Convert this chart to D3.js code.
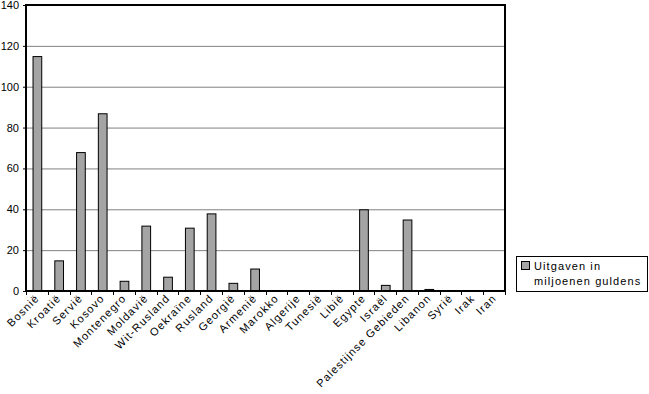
<!DOCTYPE html>
<html>
<head>
<meta charset="utf-8">
<script src="https://cdn.jsdelivr.net/npm/d3@7"></script>
<style>
  body { margin: 0; background: #fff; }
  text { font-family: "Liberation Sans", Arial, sans-serif; font-size: 11px; fill: #000; }
  .cat, .leg { letter-spacing: 1.1px; }
</style>
</head>
<body>
<svg id="chart" width="649" height="394"></svg>
<script>
// data
const countries = ["Bosnië","Kroatië","Servië","Kosovo","Montenegro","Moldavië","Wit-Rusland",
  "Oekraïne","Rusland","Georgië","Armenië","Marokko","Algerije","Tunesië","Libië","Egypte",
  "Israël","Palestijnse Gebieden","Libanon","Syrië","Irak","Iran"]
const spending = [115,15,68,87,5,32,7,31,38,4,11,0,0,0,0,40,3,35,1,0,0,0]
const yTicks = [0,20,40,60,80,100,120,140]
const legendLines = ["Uitgaven in", "miljoenen guldens"]

const svg = d3.select("#chart")
const margin = {top: 5, left: 26}
const width = 479, height = 286

const g = svg.append("g").attr("transform", "translate(" + margin.left + "," + margin.top + ")")

const x = d3.scaleBand().domain(countries).range([0, width]).paddingInner(0.6).paddingOuter(0.3)
const y = d3.scaleLinear().domain([0, 140]).range([height, 0])

// gridlines
g.append("g")
  .selectAll("line")
  .data(yTicks.filter(d => d > 0 && d < 140))
  .join("line")
  .attr("x1", 0).attr("x2", width)
  .attr("y1", d => y(d) + 0.5).attr("y2", d => y(d) + 0.5)
  .attr("stroke", "#808080").attr("stroke-width", 1)

// frame
g.append("rect")
  .attr("x", 0).attr("y", 0).attr("width", width).attr("height", height)
  .attr("fill", "none").attr("stroke", "#000").attr("stroke-width", 2)

// bars
g.append("g")
  .selectAll("rect")
  .data(countries.map((c, i) => ({c, v: spending[i]})).filter(d => d.v > 0))
  .join("rect")
  .attr("x", d => x(d.c) + 0.5)
  .attr("y", d => y(d.v) + 0.5)
  .attr("width", x.bandwidth())
  .attr("height", d => height - y(d.v))
  .attr("fill", "#a4a4a4").attr("stroke", "#000").attr("stroke-width", 1)

// y axis
const yAxis = g.append("g")
  .call(d3.axisLeft(y).tickValues(yTicks).tickSize(3).tickPadding(4))
yAxis.select(".domain").remove()
yAxis.selectAll("text").attr("font-size", 11)

// x axis: ticks at category boundaries
const xb = d3.scaleLinear().domain([0, countries.length]).range([0, width])
g.append("g")
  .selectAll("line")
  .data(d3.range(countries.length + 1))
  .join("line")
  .attr("x1", d => Math.round(xb(d)) + 0.5).attr("x2", d => Math.round(xb(d)) + 0.5)
  .attr("y1", height).attr("y2", height + 4)
  .attr("stroke", "#000")
g.append("line")
  .attr("x1", 0).attr("x2", width)
  .attr("y1", height).attr("y2", height)
  .attr("stroke", "#000").attr("stroke-width", 2)

g.append("g")
  .selectAll("text")
  .data(countries)
  .join("text")
  .attr("class", "cat")
  .attr("text-anchor", "end")
  .attr("transform", d => "translate(" + (x(d) + x.bandwidth() / 2 + 3) + "," + (height + 8) + ") rotate(-45)")
  .text(d => d)

// legend
const lg = svg.append("g").attr("transform", "translate(516,256)")
lg.append("rect").attr("x", 0.5).attr("y", 0.5).attr("width", 131).attr("height", 35)
  .attr("fill", "#fff").attr("stroke", "#000")
lg.append("rect").attr("x", 5.5).attr("y", 5.5).attr("width", 8).attr("height", 8)
  .attr("fill", "#a4a4a4").attr("stroke", "#000")
lg.selectAll("text.leg")
  .data(legendLines)
  .join("text")
  .attr("class", "leg")
  .attr("x", 18).attr("y", (d, i) => 14 + i * 15)
  .text(d => d)
</script>
</body>
</html>
